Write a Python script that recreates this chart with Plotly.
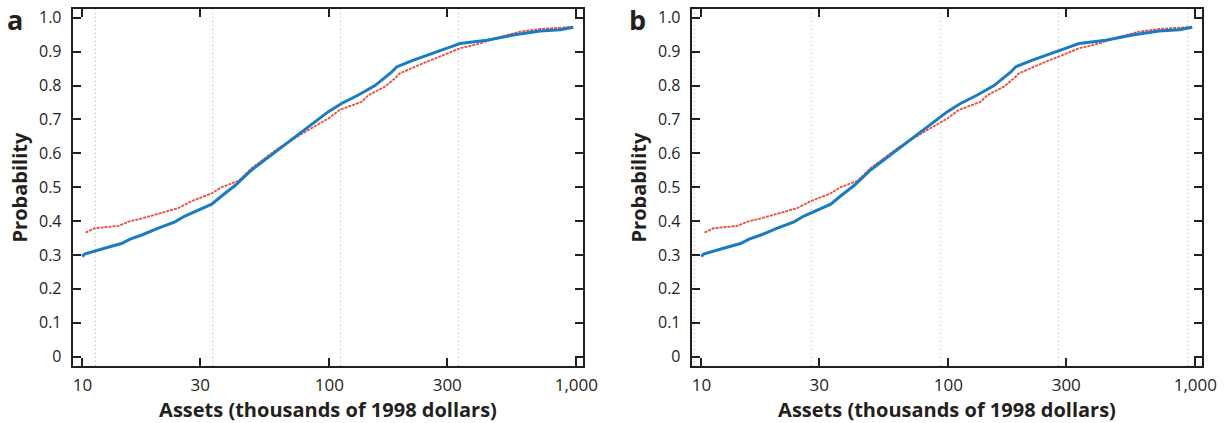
import plotly.graph_objects as go

# Assets (thousands of 1998 dollars) and cumulative probability
blue_x = [10.0, 10.2, 12.7, 14.4, 15.6, 17.4, 20.3, 23.7, 26.0, 29.4, 33.4, 36.6, 41.5,
          48.4, 62.1, 82.2, 99.1, 112, 131, 153, 179, 187, 219, 264, 318, 338, 434,
          556, 713, 859, 971]
blue_y = [0.295, 0.303, 0.323, 0.334, 0.347, 0.359, 0.379, 0.398, 0.415, 0.433, 0.450,
          0.474, 0.505, 0.551, 0.612, 0.678, 0.723, 0.747, 0.772, 0.800, 0.840, 0.855,
          0.875, 0.895, 0.917, 0.924, 0.934, 0.949, 0.961, 0.965, 0.972]

red_x = [10.3, 11.2, 14.0, 15.3, 17.4, 20.9, 24.4, 27.7, 33.4, 36.6, 42.8, 48.4, 62.1,
         82.2, 99.1, 110, 135, 144, 168, 184, 193, 233, 281, 338, 407, 491, 592, 713, 971]
red_y = [0.366, 0.379, 0.386, 0.398, 0.408, 0.425, 0.438, 0.459, 0.482, 0.500, 0.519,
         0.556, 0.615, 0.669, 0.703, 0.728, 0.752, 0.772, 0.797, 0.821, 0.836, 0.862,
         0.885, 0.910, 0.924, 0.944, 0.959, 0.967, 0.973]

x_tickvals = [10, 30, 100, 300, 1000]
x_ticktext = ["10", "30", "100", "300", "1,000"]
y_tickvals = [0, 0.1, 0.2, 0.3, 0.4, 0.5, 0.6, 0.7, 0.8, 0.9, 1.0]
y_ticktext = ["0", "0.1", "0.2", "0.3", "0.4", "0.5", "0.6", "0.7", "0.8", "0.9", "1.0"]

grid_a = [11.3, 33.7, 111, 333, 1090]
grid_b = [9.34, 27.8, 93.3, 279, 933]

panel_labels = ["a", "b"]

FONT = "Open Sans"
BLUE = "#1a7bc5"
RED = "#ec4a36"

fig = go.Figure()

for i, (xa, ya) in enumerate([("x", "y"), ("x2", "y2")]):
    fig.add_trace(go.Scatter(x=red_x, y=red_y, mode="lines", xaxis=xa, yaxis=ya,
                             line=dict(color=RED, width=1.8, dash="3px,1px"),
                             showlegend=False, hoverinfo="skip"))
    fig.add_trace(go.Scatter(x=blue_x, y=blue_y, mode="lines", xaxis=xa, yaxis=ya,
                             line=dict(color=BLUE, width=3),
                             showlegend=False, hoverinfo="skip"))

for xref, grid in [("x", grid_a), ("x2", grid_b)]:
    for g in grid:
        fig.add_shape(type="line", xref=xref, yref="paper", x0=g, x1=g,
                      y0=0.1352, y1=0.978, layer="below",
                      line=dict(color="#a8a8a8", width=1, dash="1px,3px"))

axis_common = dict(
    showline=True, linewidth=2, linecolor="#231f20", mirror="ticks",
    ticks="inside", ticklen=8, tickwidth=1.5, tickcolor="#231f20",
    showgrid=False, zeroline=False,
    tickfont=dict(family=FONT, size=16, color="#231f20"),
)

xrange_log = [0.9607, 3.028]
yrange = [-0.027, 1.025]

domains_x = [[72.7 / 1225, 583.3 / 1225], [691.7 / 1225, 1202.3 / 1225]]
ydom = [0.1352, 0.978]

layout = dict(
    width=1225, height=423,
    margin=dict(l=0, r=0, t=0, b=0),
    paper_bgcolor="white", plot_bgcolor="white",
    font=dict(family=FONT, color="#231f20"),
)
for i in range(2):
    sx = "" if i == 0 else "2"
    layout["xaxis" + sx] = dict(
        axis_common, type="log", range=xrange_log, domain=domains_x[i],
        anchor="y" + sx, tickvals=x_tickvals, ticktext=x_ticktext,
        ticklabelstandoff=3, tickfont=dict(family=FONT, size=17, color="#231f20"),
        title=dict(text="<b>Assets (thousands of 1998 dollars)</b>",
                   font=dict(family=FONT, size=20), standoff=4),
        automargin=False,
    )
    layout["yaxis" + sx] = dict(
        axis_common, range=yrange, domain=ydom, anchor="x" + sx,
        tickvals=y_tickvals, ticktext=y_ticktext, ticklabelstandoff=6,
        title=dict(text="<b>Probability</b>", font=dict(family=FONT, size=20), standoff=6),
        automargin=False,
    )

fig.update_layout(**layout)

for lbl, xp in zip(panel_labels, [15 / 1225, 637 / 1225]):
    fig.add_annotation(text="<b>%s</b>" % lbl, xref="paper", yref="paper",
                       x=xp, y=1 - 20 / 423, xanchor="center", yanchor="middle",
                       showarrow=False, font=dict(family=FONT, size=27, color="#231f20"))

fig.write_html("out.html")
